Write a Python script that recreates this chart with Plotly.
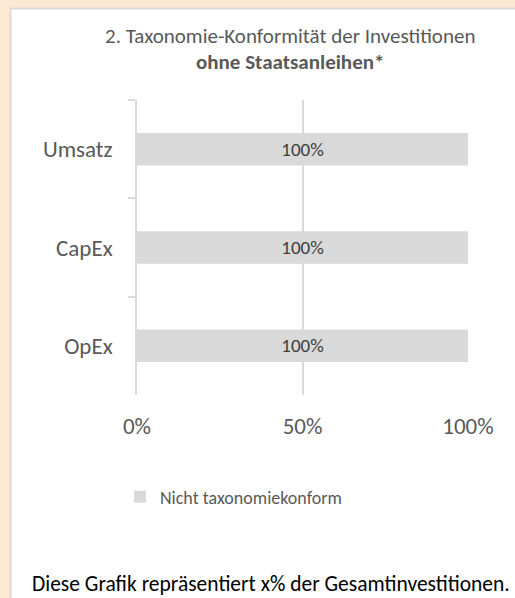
import plotly.graph_objects as go

categories = ["Umsatz", "CapEx", "OpEx"]
not_aligned = [1.0, 1.0, 1.0]
labels = ["100%", "100%", "100%"]
series_name = "Nicht taxonomiekonform"
title_line1 = "2. Taxonomie-Konformität der Investitionen"
title_line2 = "ohne Staatsanleihen*"
footer = "Diese Grafik repräsentiert x% der Gesamtinvestitionen."

FONT = "Carlito, Calibri, Lato, 'Open Sans', sans-serif"
W, H = 515, 598
L, R, T, B = 137, 468, 100, 395  # plot area in px
PW, PH = R - L, B - T


def px_x(x):
    return (x - L) / PW


def px_y(y):
    return (B - y) / PH


fig = go.Figure()
fig.add_trace(go.Bar(
    y=categories, x=not_aligned, orientation="h", name=series_name,
    marker=dict(color="#d9d9d9", line=dict(width=0)),
    text=labels, textposition="inside", insidetextanchor="middle",
    textfont=dict(family=FONT, size=19, color="#404040"),
    width=0.33, showlegend=True,
))

fig.update_layout(
    width=W, height=H,
    margin=dict(l=L, r=W - R, t=T, b=H - B),
    paper_bgcolor="#fbe9d6", plot_bgcolor="rgba(0,0,0,0)",
    font=dict(family=FONT, color="#595959"),
    showlegend=True,
    legend=dict(orientation="h", x=px_x(120), xanchor="left", y=px_y(497), yanchor="middle",
                font=dict(size=18, color="#595959"), bgcolor="rgba(0,0,0,0)",
                itemwidth=30),
    shapes=[dict(type="rect", xref="paper", yref="paper",
                 x0=px_x(10.5), x1=px_x(W + 10),
                 y0=px_y(H + 10), y1=px_y(8.5),
                 fillcolor="white", line=dict(color="#d9d9d9", width=2), layer="below")],
    annotations=[
        dict(text=title_line1, xref="paper", yref="paper",
             x=px_x(290), y=px_y(36), xanchor="center", yanchor="middle",
             showarrow=False, font=dict(size=21, color="#595959")),
        dict(text="<b>" + title_line2 + "</b>", xref="paper", yref="paper",
             x=px_x(290), y=px_y(62), xanchor="center", yanchor="middle",
             showarrow=False, font=dict(size=21, color="#595959")),
        dict(text=footer, xref="paper", yref="paper",
             x=px_x(271), y=px_y(584), xanchor="center", yanchor="middle",
             showarrow=False, font=dict(size=21.5, color="#000000")),
    ],
)

fig.update_xaxes(range=[0, 1], dtick=0.5, tickformat=".0%", showgrid=True,
                 gridcolor="#d9d9d9", gridwidth=1.5, zeroline=False, showline=False,
                 ticks="", ticklabelstandoff=15,
                 tickfont=dict(size=23, color="#595959"), fixedrange=True)
fig.update_yaxes(autorange="reversed", type="category", tickson="boundaries",
                 ticks="outside", ticklen=7, tickcolor="#d9d9d9", tickwidth=1.5,
                 showline=True, linecolor="#d9d9d9", linewidth=1.5, showgrid=False,
                 ticklabelstandoff=18,
                 tickfont=dict(size=23, color="#595959"), fixedrange=True)

fig.write_html("out.html", config={"displayModeBar": False},
               post_script="document.body.style.margin='0';document.body.style.overflow='hidden';")
